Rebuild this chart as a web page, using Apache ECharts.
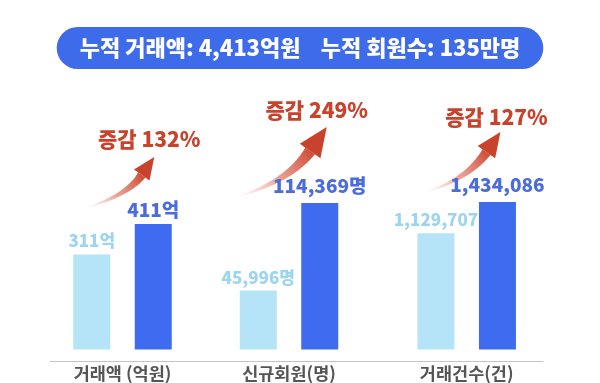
<!DOCTYPE html>
<html>
<head>
<meta charset="utf-8">
<script src="https://cdn.jsdelivr.net/npm/echarts@6/dist/echarts.min.js"></script>
<style>
  html, body { margin: 0; padding: 0; background: #ffffff; }
  #chart { width: 600px; height: 383px; }
</style>
</head>
<body>
<div id="chart"></div>
<script>
// ---------------- data ----------------
const titleText = '누적 거래액: 4,413억원    누적 회원수: 135만명';
const categories = ['거래액 (억원)', '신규회원(명)', '거래건수(건)'];
const prevValues = [311, 45996, 1129707];
const currValues = [411, 114369, 1434086];
const prevLabels = ['311억', '45,996명', '1,129,707'];
const currLabels = ['411억', '114,369명', '1,434,086'];
const changeLabels = ['증감 132%', '증감 249%', '증감 127%'];

// ---------------- layout / style ----------------
const FONT = '"Noto Sans CJK KR", "Noto Sans", sans-serif';
const groupCenters = [122.5, 289, 466.7];
const groupWidth = 123;
const groupTops = [224, 203, 202];
const axisY = 361;
const LIGHT = '#b5e4f8', DARK = '#3e6bef';
const LIGHT_TXT = '#9dd4ee', DARK_TXT = '#4a6cdc';
const RED = '#c9432c';
// offsets relative to the top of the current-period bar
const changeTextOff = [[-4, -85], [-3, -93], [-1, -85]];
const arrowTipOff = [[1, -67], [7, -76], [3, -70]];
const arrowTailOff = [[-68, -16], [-83, -6], [-72, -10]];

const chart = echarts.init(document.getElementById('chart'), null, { renderer: 'canvas' });

const grids = [], xAxes = [], yAxes = [], series = [];
categories.forEach((cat, i) => {
  grids.push({
    left: groupCenters[i] - groupWidth / 2,
    width: groupWidth,
    top: groupTops[i],
    height: axisY - groupTops[i]
  });
  xAxes.push({
    type: 'category', gridIndex: i, data: ['prev', 'curr'],
    axisLine: { show: false }, axisTick: { show: false }, axisLabel: { show: false },
    name: cat, nameLocation: 'middle', nameGap: 15,
    nameTextStyle: { color: '#555555', fontSize: 17.5, fontWeight: 'bold', fontFamily: FONT }
  });
  yAxes.push({
    type: 'value', gridIndex: i, min: 0, max: 'dataMax', show: false,
    splitLine: { show: false }
  });
  series.push({
    type: 'bar', xAxisIndex: i, yAxisIndex: i, barWidth: 37,
    data: [
      { value: prevValues[i], itemStyle: { color: LIGHT },
        label: { formatter: prevLabels[i], color: LIGHT_TXT, distance: 5, fontSize: 17 } },
      { value: currValues[i], itemStyle: { color: DARK },
        label: { formatter: currLabels[i], color: DARK_TXT, distance: i === 0 ? 5 : 8, fontSize: 19 } }
    ],
    label: { show: true, position: 'top', fontWeight: 900, fontFamily: FONT },
    animation: false
  });
});
// shared baseline
grids.push({ left: 50, width: 493, top: axisY - 1, height: 1 });
xAxes.push({
  type: 'value', gridIndex: 3, min: 0, max: 1,
  axisLine: { show: true, lineStyle: { color: '#c4c4c4', width: 1 } },
  axisTick: { show: false }, axisLabel: { show: false }, splitLine: { show: false }
});
yAxes.push({ type: 'value', gridIndex: 3, show: false, splitLine: { show: false } });

chart.setOption({
  backgroundColor: '#ffffff',
  animation: false,
  title: {
    text: titleText, left: 'center', top: 27,
    backgroundColor: '#3e6be9', borderRadius: 21, padding: [10, 23],
    textStyle: { color: '#ffffff', fontSize: 22, fontWeight: 900, fontFamily: FONT, lineHeight: 22 }
  },
  grid: grids, xAxis: xAxes, yAxis: yAxes, series: series
});

// ---------------- arrows + change labels ----------------
function norm(v) { const l = Math.hypot(v[0], v[1]); return [v[0] / l, v[1] / l]; }
function arrowElems(tail, tip) {
  const s = Math.hypot(tip[0] - tail[0], tip[1] - tail[1]) / 86;
  const d = norm([0.57, -0.82]);
  const headLen = 22 * s, headHalf = 9.5 * s;
  const base = [tip[0] - d[0] * headLen, tip[1] - d[1] * headLen];
  const t0 = norm([1, -0.3]);
  const det = t0[0] * (-d[1]) - t0[1] * (-d[0]);
  const rx = base[0] - tail[0], ry = base[1] - tail[1];
  const a = (rx * (-d[1]) - ry * (-d[0])) / det;
  const ctrl = [tail[0] + a * t0[0], tail[1] + a * t0[1]];
  const N = 30, left = [], right = [];
  for (let k = 0; k <= N; k++) {
    const t = k / N, u = 1 - t;
    const p = [u * u * tail[0] + 2 * u * t * ctrl[0] + t * t * base[0],
               u * u * tail[1] + 2 * u * t * ctrl[1] + t * t * base[1]];
    const tg = norm([2 * u * (ctrl[0] - tail[0]) + 2 * t * (base[0] - ctrl[0]),
                     2 * u * (ctrl[1] - tail[1]) + 2 * t * (base[1] - ctrl[1])]);
    const n = [-tg[1], tg[0]];
    const w = (0.4 + 4.0 * Math.pow(t, 1.1)) * s;
    left.push([p[0] + n[0] * w, p[1] + n[1] * w]);
    right.push([p[0] - n[0] * w, p[1] - n[1] * w]);
  }
  const shaft = left.concat(right.reverse());
  const nn = [-d[1], d[0]];
  const head = [tip, [base[0] + nn[0] * headHalf, base[1] + nn[1] * headHalf],
                [base[0] - nn[0] * headHalf, base[1] - nn[1] * headHalf]];
  return [
    { type: 'polygon', silent: true, shape: { points: shaft },
      style: { fill: { type: 'linear', x: 0, y: 1, x2: 1, y2: 0, colorStops: [
        { offset: 0, color: 'rgba(240,170,160,0)' },
        { offset: 0.45, color: 'rgba(225,110,90,0.6)' },
        { offset: 1, color: RED } ] } } },
    { type: 'polygon', silent: true, shape: { points: head }, style: { fill: RED } }
  ];
}

const graphics = [];
categories.forEach((cat, i) => {
  const top = chart.convertToPixel({ seriesIndex: i }, [1, currValues[i]]);
  const tip = [top[0] + arrowTipOff[i][0], top[1] + arrowTipOff[i][1]];
  const tail = [top[0] + arrowTailOff[i][0], top[1] + arrowTailOff[i][1]];
  arrowElems(tail, tip).forEach(g => graphics.push(g));
  graphics.push({
    type: 'text', silent: true,
    x: top[0] + changeTextOff[i][0], y: top[1] + changeTextOff[i][1],
    style: { text: changeLabels[i], fill: RED, fontSize: 21, fontWeight: 900,
             fontFamily: FONT, align: 'center', verticalAlign: 'middle' }
  });
});
chart.setOption({ graphic: graphics });
</script>
</body>
</html>
